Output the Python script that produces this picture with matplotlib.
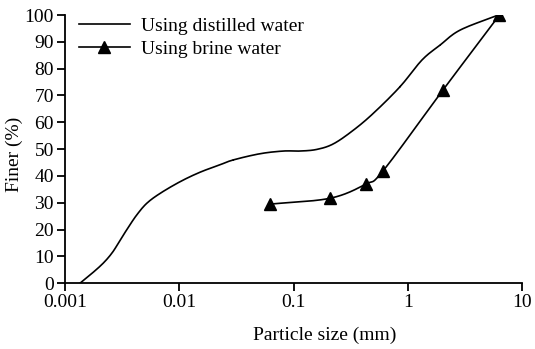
import numpy as np
import matplotlib
matplotlib.use("Agg")
import matplotlib.pyplot as plt

plt.rcParams['font.family'] = ['Liberation Serif', 'DejaVu Serif']

# Distilled water curve
dist_x = [0.00135, 0.0017, 0.00216, 0.0026, 0.00303, 0.0036, 0.00425, 0.00519, 0.00679,
          0.0102, 0.0152, 0.0228, 0.0298, 0.051, 0.0817, 0.114, 0.16, 0.224, 0.335,
          0.501, 0.857, 1.33, 1.92, 2.88, 6.22]
dist_y = [0.0, 3.5, 7.5, 11.5, 16.0, 21.0, 25.5, 29.8, 33.5,
          37.9, 41.4, 44.2, 46.0, 48.3, 49.3, 49.3, 49.9, 52.0, 57.1,
          63.4, 73.3, 83.2, 88.8, 94.4, 100.0]

# Brine water (marker points)
brine_x = [0.062, 0.209, 0.43, 0.61, 2.03, 6.35]
brine_y = [29.5, 31.7, 37.0, 42.0, 72.0, 100.0]

xticks = [0.001, 0.01, 0.1, 1, 10]
xticklabels = ['0.001', '0.01', '0.1', '1', '10']
yticks = list(range(0, 101, 10))


def catmull_rom(xs, ys, n=30):
    px = np.log10(np.asarray(xs, float))
    py = np.asarray(ys, float)
    P = np.column_stack([px, py])
    P = np.vstack([2 * P[0] - P[1], P, 2 * P[-1] - P[-2]])
    out = []
    for i in range(1, len(P) - 2):
        p0, p1, p2, p3 = P[i - 1], P[i], P[i + 1], P[i + 2]
        t = np.linspace(0, 1, n)[:, None]
        seg = 0.5 * ((2 * p1) + (-p0 + p2) * t + (2 * p0 - 5 * p1 + 4 * p2 - p3) * t ** 2
                     + (-p0 + 3 * p1 - 3 * p2 + p3) * t ** 3)
        out.append(seg)
    out = np.vstack(out)
    return 10 ** out[:, 0], out[:, 1]


fig = plt.figure(figsize=(5.35, 3.49), dpi=100)
ax = fig.add_axes([65 / 535, 1 - 283.3 / 349, (522 - 65) / 535, (283.3 - 15) / 349])

dx, dy = catmull_rom(dist_x, dist_y, n=12)
ax.plot(dx, dy, color='black', lw=1.2, label='Using distilled water')
bx, by = catmull_rom(brine_x, brine_y, n=30)
ax.plot(bx, by, color='black', lw=1.2)
ax.plot(brine_x, brine_y, linestyle='none', marker='^', color='black', ms=8)
ax.plot([], [], color='black', lw=1.2, marker='^', ms=8, label='Using brine water')

ax.set_xscale('log')
ax.set_xlim(0.001, 10)
ax.set_ylim(0, 100)
ax.set_xticks(xticks)
ax.set_xticklabels(xticklabels)
ax.xaxis.set_minor_locator(matplotlib.ticker.NullLocator())
ax.set_yticks(yticks)
ax.tick_params(labelsize=14, length=6, width=1.3, direction='out', pad=2)
for s in ['top', 'right']:
    ax.spines[s].set_visible(False)
for s in ['left', 'bottom']:
    ax.spines[s].set_linewidth(1.3)
ax.set_xlabel('Particle size (mm)', fontsize=14)
ax.set_ylabel('Finer (%)', fontsize=14)
ax.xaxis.set_label_coords(0.569, -0.163)
ax.yaxis.set_label_coords(-0.092, 0.48)
leg = ax.legend(loc='upper left', bbox_to_anchor=(0.014, 1.021), frameon=False, fontsize=14,
                handlelength=2.6, handletextpad=0.6, labelspacing=0.3, borderaxespad=0)

fig.savefig('out.png', dpi=100)
